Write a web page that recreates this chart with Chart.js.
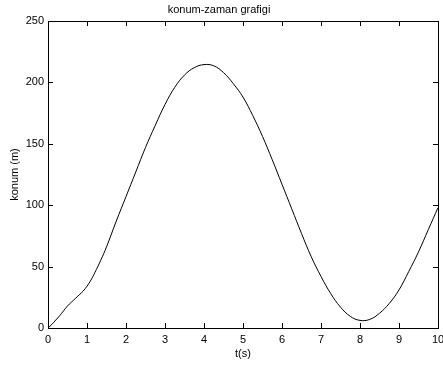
<!DOCTYPE html>
<html>
<head>
<meta charset="utf-8">
<title>konum-zaman grafigi</title>
<script src="https://cdn.jsdelivr.net/npm/chart.js@4/dist/chart.umd.min.js"></script>
<style>
    html, body { margin: 0; padding: 0; background: #fff; }
    #wrap { width: 443px; height: 371px; }
</style>
</head>
<body>
<div id="wrap"><canvas id="konum-chart" width="443" height="371"></canvas></div>
<script>
// time samples (s) and position readings (m)
const times = [0, 0.1, 0.2, 0.3, 0.4, 0.5, 0.6, 0.7, 0.8, 0.9, 1.0, 1.1, 1.2, 1.35, 1.5, 1.75,
    2.0, 2.25, 2.5, 2.75, 3.0, 3.25, 3.5, 3.75, 4.0, 4.25, 4.5, 4.75, 5.0, 5.25, 5.5, 5.75,
    6.0, 6.25, 6.5, 6.75, 7.0, 7.25, 7.5, 7.75, 8.0, 8.25, 8.5, 8.75, 9.0, 9.25, 9.5, 9.75, 10.0];
const positions = [0, 3, 6.5, 10, 14, 18, 21, 24, 27, 30, 34, 39, 45, 55, 66, 87,
    107, 127, 147, 165, 182, 196, 206, 212, 214.5, 213.5, 208, 199, 188, 173, 156, 137,
    117, 97, 77, 58, 42, 28, 17, 9.5, 6.2, 7, 12, 20, 31, 46, 62, 80, 98];
const xTicks = [0, 1, 2, 3, 4, 5, 6, 7, 8, 9, 10];
const yTicks = [0, 50, 100, 150, 200, 250];

const FONT = { family: "'Liberation Sans', Arial, sans-serif", size: 11, lineHeight: 1.2 };
const TICK_LEN = 5;

// MATLAB-style box with inward tick marks on all four sides
const boxTicks = {
    id: 'boxTicks',
    afterDatasetsDraw(chart) {
        const { ctx, chartArea: a, scales: { x, y } } = chart;
        ctx.save();
        ctx.strokeStyle = '#000';
        ctx.lineWidth = 1;
        ctx.beginPath();
        xTicks.forEach(v => {
            const px = Math.round(x.getPixelForValue(v)) + 0.5;
            ctx.moveTo(px, a.bottom); ctx.lineTo(px, a.bottom - TICK_LEN);
            ctx.moveTo(px, a.top); ctx.lineTo(px, a.top + TICK_LEN);
        });
        yTicks.forEach(v => {
            const py = Math.round(y.getPixelForValue(v)) + 0.5;
            ctx.moveTo(a.left, py); ctx.lineTo(a.left + TICK_LEN, py);
            ctx.moveTo(a.right, py); ctx.lineTo(a.right - TICK_LEN, py);
        });
        ctx.stroke();
        ctx.strokeRect(Math.round(a.left) + 0.5, Math.round(a.top) + 0.5,
            Math.round(a.right - a.left), Math.round(a.bottom - a.top));
        ctx.restore();
    }
};

document.addEventListener('DOMContentLoaded', () => {
    const ctx = document.getElementById('konum-chart');
    Chart.defaults.color = '#000';
    Chart.defaults.font.family = FONT.family;
    Chart.defaults.font.size = FONT.size;

    new Chart(ctx, {
        type: 'line',
        data: {
            datasets: [{
                data: times.map((t, i) => ({ x: t, y: positions[i] })),
                borderColor: '#000',
                borderWidth: 1,
                pointRadius: 0,
                fill: false,
                tension: 0.4
            }]
        },
        options: {
            responsive: false,
            animation: false,
            devicePixelRatio: 1,
            layout: { padding: { top: 0, right: 5, left: 0, bottom: 0 } },
            plugins: {
                legend: { display: false },
                tooltip: { enabled: false },
                title: {
                    display: true,
                    text: 'konum-zaman grafigi',
                    color: '#000',
                    font: { ...FONT, lineHeight: '13px', weight: 'normal' },
                    padding: { top: 3, bottom: 5 }
                }
            },
            scales: {
                x: {
                    type: 'linear',
                    min: 0,
                    max: 10,
                    afterBuildTicks: s => { s.ticks = xTicks.map(v => ({ value: v })); },
                    afterFit: s => { s.height = 43; s.paddingLeft = 0; s.paddingRight = 0; },
                    grid: { display: false, drawTicks: false },
                    border: { display: false },
                    ticks: { padding: 5, maxRotation: 0, autoSkip: false, font: FONT },
                    title: { display: true, text: 't(s)', font: FONT, padding: { top: 0, bottom: 10 } }
                },
                y: {
                    min: 0,
                    max: 250,
                    afterBuildTicks: s => { s.ticks = yTicks.map(v => ({ value: v })); },
                    afterFit: s => { s.width = 48; s.paddingTop = 0; s.paddingBottom = 0; },
                    grid: { display: false, drawTicks: false },
                    border: { display: false },
                    ticks: { padding: 4, autoSkip: false, font: FONT },
                    title: { display: true, text: 'konum (m)', font: FONT, padding: { top: 8, bottom: 0 } }
                }
            }
        },
        plugins: [boxTicks]
    });
});
</script>
</body>
</html>
